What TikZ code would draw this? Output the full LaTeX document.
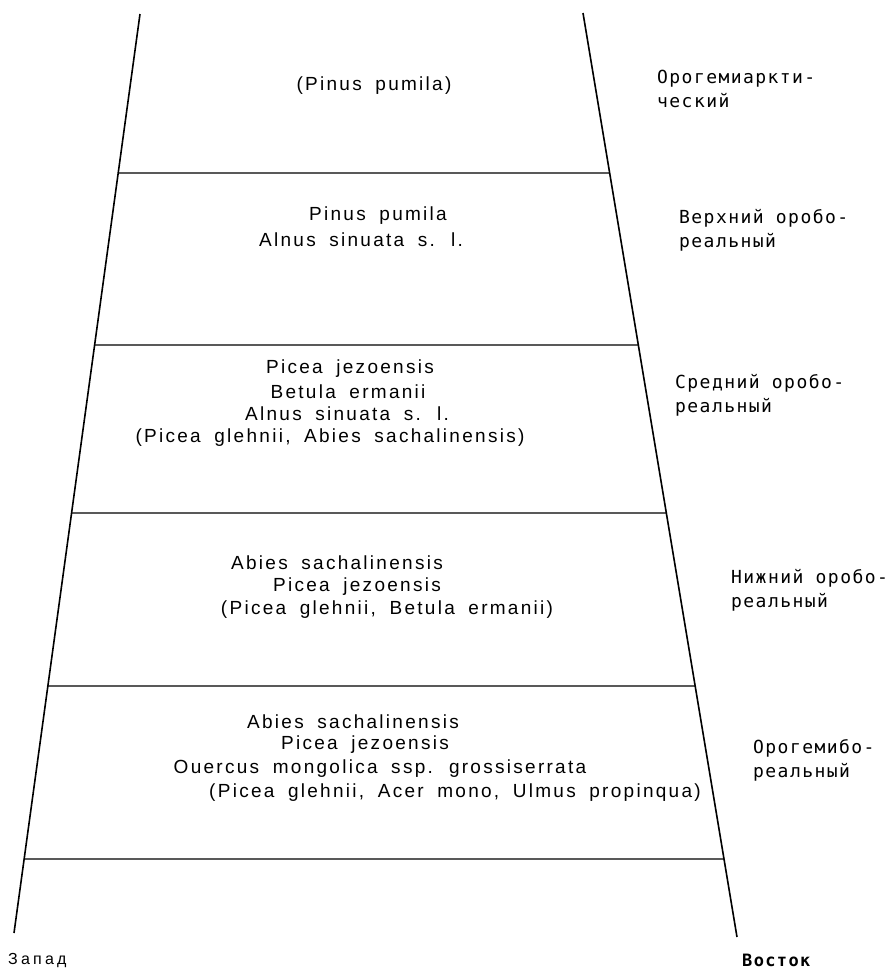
\documentclass[tikz,border=0pt]{standalone}
\usepackage{fontspec}
\usetikzlibrary{calc}
\newfontfamily\latinfont[LetterSpace=12,WordSpace=1.8]{Liberation Sans}
\newfontfamily\beltfont[LetterSpace=8]{DejaVu Sans Mono}
\newfontfamily\sidefont[LetterSpace=20]{Liberation Sans}

\begin{document}
\begin{tikzpicture}[x=1pt,y=-1pt,
    species/.style={font=\latinfont\fontsize{19}{22}\selectfont, inner sep=0pt},
    belt/.style={font=\beltfont\fontsize{18}{24}\selectfont, anchor=west, align=left, inner sep=0pt},
    border/.style={black, line width=1.6pt},
    level/.style={black, line width=1.3pt}]
  \useasboundingbox (0,0) rectangle (891,970);
  % slope borders
  \coordinate (lt) at (140,14);
  \coordinate (lb) at (14,933);
  \coordinate (rt) at (583,13);
  \coordinate (rb) at (737,937);
  \draw[border] (lt) -- (lb);
  \draw[border] (rt) -- (rb);
  % belt limits
  \foreach \y [count=\i] in {173,345,513,686,859} {
      \coordinate (l\i) at ($(lt)!{(\y-14)/919}!(lb)$);
      \coordinate (r\i) at ($(rt)!{(\y-13)/924}!(rb)$);
      \draw[level] (l\i) -- (r\i);
  }
  % species
  \node[species] (pumA) at (374,86) {(Pinus pumila)};
  \node[species] (pumB) at (378,216) {Pinus pumila};
  \node[species] (alnB) at (361,240) {Alnus sinuata s. l.};
  \node[species] (jezC) at (350,369) {Picea jezoensis};
  \node[species] (betC) at (348,392) {Betula ermanii};
  \node[species] (alnC) at (347,414) {Alnus sinuata s. l.};
  \node[species] (glhC) at (330,438) {(Picea glehnii, Abies sachalinensis)};
  \node[species] (abiD) at (337,563) {Abies sachalinensis};
  \node[species] (jezD) at (357,587) {Picea jezoensis};
  \node[species] (glhD) at (387,610) {(Picea glehnii, Betula ermanii)};
  \node[species] (abiE) at (353,722) {Abies sachalinensis};
  \node[species] (jezE) at (365,745) {Picea jezoensis};
  \node[species] (queE) at (380,769) {Ouercus mongolica ssp. grossiserrata};
  \node[species] (glhE) at (455,793) {(Picea glehnii, Acer mono, Ulmus propinqua)};
  % belts
  \node[belt] (arct) at (657,89) {Орогемиаркти-\\ческий};
  \node[belt] (upper) at (679,230) {Верхний оробо-\\реальный};
  \node[belt] (middle) at (675,395) {Средний оробо-\\реальный};
  \node[belt] (lower) at (731,590) {Нижний оробо-\\реальный};
  \node[belt] (nemo) at (753,760) {Орогемибо-\\реальный};
  % sides
  \node[font=\sidefont\fontsize{16}{18}\selectfont, anchor=west, inner sep=0pt] (west) at (8,960) {Запад};
  \node[font=\beltfont\bfseries\fontsize{17}{18}\selectfont, anchor=west, inner sep=0pt] (east) at (742,960) {Восток};
\end{tikzpicture}
\end{document}
